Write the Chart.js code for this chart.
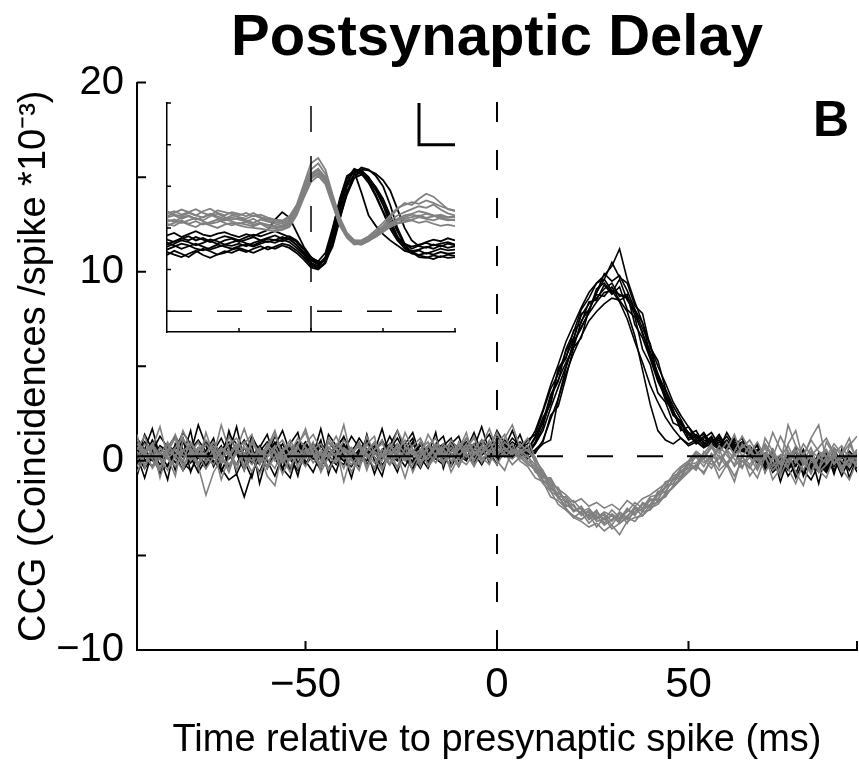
<!DOCTYPE html>
<html>
<head>
<meta charset="utf-8">
<script src="https://cdn.jsdelivr.net/npm/chart.js@4"></script>
<style>
  html, body { margin: 0; padding: 0; background: #fff; }
  #wrap { position: relative; width: 859px; height: 766px; }
  #main { position: absolute; left: 0; top: 0; width: 859px; height: 766px; }
  #inset { position: absolute; left: 157px; top: 93px; width: 310px; height: 250px; }
</style>
</head>
<body>
<div id="wrap">
  <canvas id="main" width="859" height="766"></canvas>
  <canvas id="inset" width="310" height="250"></canvas>
</div>
<script>
// Cross-correlograms (CCG) around a presynaptic spike, plus waveform inset.
// Values, one row per 10 bins.

// ---- main panel: lag axis (ms), 2 ms bins ----
const lagMs = [
  -94,-92,-90,-88,-86,-84,-82,-80,-78,-76,
  -74,-72,-70,-68,-66,-64,-62,-60,-58,-56,
  -54,-52,-50,-48,-46,-44,-42,-40,-38,-36,
  -34,-32,-30,-28,-26,-24,-22,-20,-18,-16,
  -14,-12,-10,-8,-6,-4,-2,0,2,4,
  6,8,10,12,14,16,18,20,22,24,
  26,28,30,32,34,36,38,40,42,44,
  46,48,50,52,54,56,58,60,62,64,
  66,68,70,72,74,76,78,80,82,84,
  86,88,90,92,94
];

// excitatory pairs (black)
const exc1 = [
  0.8,0.2,1.1,0.4,-0.3,0.6,1.5,0.9,0.2,-0.4,
  0.5,1.2,0.3,-0.2,0.7,0.1,-0.6,0.4,1.0,0.2,
  0.8,-0.1,0.5,0.9,0.3,-0.5,0.2,0.7,0.1,0.6,
  -0.2,0.4,1.1,0.3,0.0,0.6,0.2,-0.4,0.5,0.8,
  0.1,0.4,-0.3,0.6,0.2,0.9,1.4,0.5,0.3,0.8,
  0.4,0.6,1.2,2.3,3.0,4.8,5.4,6.9,7.3,8.4,
  8.5,9.3,8.8,9.2,8.0,7.6,5.9,5.1,3.6,3.1,
  2.0,1.8,1.1,1.3,0.8,1.2,0.7,1.1,0.6,0.9,
  0.4,0.6,0.0,-0.4,0.3,-0.2,0.5,-0.6,0.1,-0.3,
  0.4,-0.5,0.2,-0.1,0.3
];
const exc2 = [
  -0.2,0.5,0.9,0.1,0.7,1.3,0.6,-0.1,0.4,1.0,
  0.3,0.8,-0.3,0.5,0.2,1.1,0.6,0.0,-0.8,0.3,
  0.6,1.0,0.4,0.1,0.8,0.3,-0.2,0.5,1.3,0.7,
  0.2,-0.4,0.6,0.9,0.1,0.5,1.0,0.4,-0.1,0.3,
  0.7,0.2,0.5,1.2,0.6,0.1,0.4,1.0,0.7,0.2,
  0.6,0.3,0.9,1.8,3.4,4.2,5.9,6.8,8.0,8.6,
  9.4,9.8,10.3,11.2,9.6,8.4,7.3,5.6,4.4,3.2,
  2.6,1.7,1.4,0.9,1.2,1.5,0.8,1.3,0.7,1.0,
  0.5,0.2,-0.3,0.4,-0.5,0.1,-0.2,0.6,-0.4,0.0,
  -0.6,0.3,-0.2,0.5,0.1
];
const exc3 = [
  0.3,-0.4,0.2,0.8,0.5,-0.1,0.4,0.2,-0.6,0.1,
  0.7,0.3,1.4,0.9,0.2,0.5,-0.2,0.6,0.3,0.9,
  0.1,-0.5,0.3,0.7,0.2,1.0,0.5,0.0,0.4,-0.3,
  0.5,0.8,0.3,-0.2,0.6,0.4,0.9,0.2,0.7,0.1,
  -0.2,0.6,0.3,0.0,0.8,0.5,0.2,0.7,1.1,0.4,
  0.2,0.5,0.4,1.1,2.2,3.3,4.6,5.7,6.6,7.4,
  7.9,8.3,8.6,8.5,8.7,8.0,7.3,6.1,5.0,4.1,
  3.1,2.4,1.8,1.3,1.1,1.0,1.2,0.8,0.9,0.6,
  0.8,0.3,0.1,-0.5,0.2,-0.8,-0.2,0.3,-0.4,-0.1,
  0.2,-0.3,0.4,-0.2,0.0
];
const exc4 = [
  1.2,0.6,0.0,0.4,0.9,0.3,-0.5,0.1,0.7,0.4,
  -0.1,0.3,0.8,0.5,1.1,0.4,0.0,0.6,0.2,-0.4,
  0.4,0.9,0.2,0.6,-0.3,0.3,0.8,1.2,0.5,0.1,
  0.6,0.2,-0.3,0.5,0.9,0.3,0.0,0.5,0.2,0.6,
  0.9,0.3,0.6,0.1,0.4,-0.2,0.5,0.8,0.6,1.0,
  0.7,0.9,1.6,2.7,4.0,5.1,6.3,7.2,8.1,8.9,
  9.4,9.6,9.0,8.4,7.5,6.3,5.2,4.0,3.1,2.3,
  1.7,1.2,0.9,1.1,0.7,0.9,0.6,1.0,0.5,0.7,
  0.2,0.5,-0.1,0.3,-0.6,0.0,-0.3,0.4,-0.2,0.3,
  -0.4,0.1,-0.1,0.4,-0.2
];
const exc5 = [
  0.4,1.0,0.5,-0.2,0.3,0.8,0.2,0.6,1.1,0.5,
  0.0,-0.5,0.2,0.7,0.4,-0.1,0.5,1.0,0.6,0.3,
  -0.4,0.2,0.7,0.3,0.9,0.5,0.1,-0.2,0.6,0.9,
  0.3,0.7,0.1,0.6,1.2,0.4,-0.1,0.3,0.8,0.4,
  0.5,1.0,0.7,0.3,-0.1,0.6,0.9,0.3,0.5,0.2,
  0.5,0.1,0.5,0.9,1.1,3.3,4.9,6.3,7.0,7.9,
  8.9,9.9,9.5,9.8,9.0,8.0,7.0,6.2,4.4,3.5,
  2.6,2.0,1.5,1.2,1.4,0.9,1.1,0.7,1.0,0.8,
  0.6,0.4,0.2,-0.2,0.1,-0.4,0.2,-0.7,0.0,-0.3,
  0.1,-0.2,0.3,-0.5,0.2
];
const exc6 = [
  0.6,0.1,-0.3,0.5,0.9,0.4,0.0,0.8,0.3,-0.2,
  0.9,0.4,0.1,0.6,-0.4,0.2,0.8,0.3,1.3,0.6,
  0.3,0.6,0.0,-0.6,0.4,0.7,0.3,0.9,0.2,0.5,
  1.0,0.4,0.2,0.7,0.3,-0.3,0.5,0.8,0.4,0.1,
  0.4,0.8,0.2,0.5,0.9,0.3,0.7,0.1,0.6,1.2,
  0.8,0.4,1.0,2.1,3.5,4.3,5.2,6.0,7.4,8.0,
  8.8,8.7,9.2,8.5,7.9,6.6,4.8,3.0,1.6,1.1,
  0.9,1.2,0.8,1.0,0.7,1.1,0.6,0.9,0.4,0.6,
  0.3,-0.1,0.4,-0.3,0.2,-0.5,0.1,-0.2,0.3,-0.6,
  0.0,0.3,-0.4,0.2,-0.1
];
const exc7 = [
  0.1,0.5,0.2,-0.6,-0.2,0.4,-0.1,-0.5,0.2,-0.3,
  0.3,-0.4,-1.0,-0.7,-1.9,-0.6,0.1,-0.3,0.4,0.0,
  -0.5,0.2,-0.2,0.6,0.1,-0.4,0.3,0.0,-0.3,0.4,
  0.0,0.5,-0.2,0.2,0.7,0.1,-0.4,0.3,0.0,0.5,
  0.2,-0.3,0.4,0.8,0.3,1.1,0.6,1.6,0.9,0.4,
  0.3,0.7,0.9,1.6,2.8,3.9,5.0,6.2,7.1,7.8,
  8.4,8.9,9.0,8.8,8.6,7.7,6.8,5.5,4.6,3.4,
  2.5,1.9,1.5,1.0,1.3,0.8,1.0,0.6,0.8,0.5,
  0.4,0.0,-0.4,-0.1,-0.7,-0.3,0.1,-0.5,-1.0,-0.2,
  -0.6,0.0,-0.3,0.2,-0.4
];
const exc8 = [
  -0.8,0.6,1.7,0.2,-1.0,0.9,0.3,1.6,-0.4,0.5,
  1.2,-0.6,0.4,1.8,0.0,-0.9,0.7,1.4,0.1,-0.5,
  0.9,1.5,-0.2,0.3,1.1,-0.7,0.6,1.3,0.2,-0.3,
  1.4,0.0,-0.8,0.8,1.6,0.4,-0.5,1.0,0.3,1.5,
  -0.4,0.9,1.3,0.2,0.7,1.8,0.5,-0.2,1.1,0.6,
  1.4,0.3,0.6,1.0,2.4,2.9,4.4,6.0,6.5,8.0,
  8.9,9.6,10.5,9.7,9.4,8.2,7.8,6.0,5.3,3.8,
  2.9,2.2,1.4,1.6,0.9,1.3,0.6,1.5,0.8,1.2,
  0.2,0.9,-0.6,0.4,-1.1,0.1,0.7,-0.8,0.3,-1.2,
  0.5,-0.7,0.6,-0.9,0.2
];
const exc9 = [
  0.3,-0.9,0.5,1.3,0.7,-0.5,1.0,0.4,1.9,0.8,
  -0.3,0.6,1.0,-0.7,0.2,1.3,0.5,-0.4,0.8,1.6,
  0.4,-0.8,0.9,0.2,-0.5,1.4,0.8,0.3,-0.9,0.6,
  1.1,0.5,1.7,0.2,-0.6,0.7,1.2,-0.3,0.4,0.9,
  1.3,-0.2,0.5,1.0,0.2,0.8,-0.1,1.3,0.7,1.6,
  0.6,1.1,1.4,2.6,3.8,4.6,5.8,6.5,7.7,8.3,
  8.6,9.1,9.4,8.7,8.8,7.2,6.5,5.4,4.2,3.4,
  2.4,2.1,1.2,1.4,1.0,0.7,1.3,0.8,1.2,0.6,
  0.7,0.1,0.4,-0.6,-0.2,0.3,-0.9,0.0,-0.5,0.4,
  -0.3,0.2,-0.8,0.1,0.4
];
const exc10 = [
  0.0,1.4,0.6,-0.7,0.8,0.2,1.2,-0.6,0.5,1.0,
  0.7,-0.2,1.6,0.4,-0.5,0.9,-1.2,0.3,0.9,-0.4,
  -0.9,0.5,1.0,0.3,1.7,0.1,-0.6,0.8,0.4,1.2,
  0.6,-0.7,0.4,1.3,0.5,0.9,1.5,0.2,-0.4,0.6,
  0.8,1.2,0.0,0.6,1.5,0.4,1.0,0.2,0.9,0.5,
  1.0,0.6,1.3,2.0,3.1,4.9,5.5,6.4,7.8,7.9,
  9.1,9.4,8.9,9.6,8.5,7.9,6.7,5.8,4.6,3.7,
  2.7,1.6,1.8,1.1,1.5,0.9,1.4,0.7,1.1,0.9,
  0.5,0.8,-0.2,0.6,-0.4,0.2,-0.7,0.4,-0.3,0.1,
  -0.5,0.6,-0.1,0.3,-0.6
];

// inhibitory pairs (grey)
const inh1 = [
  0.5,-0.2,0.8,0.3,1.0,0.1,-0.5,0.6,0.2,0.9,
  0.4,-0.1,1.3,0.5,0.2,-0.6,0.3,0.8,0.0,0.5,
  1.1,0.3,-0.3,0.6,0.9,0.2,0.4,-0.4,0.7,0.1,
  0.5,1.0,0.3,-0.2,0.6,0.2,0.8,1.2,0.4,-0.1,
  0.6,0.2,0.9,0.4,-0.3,0.5,1.0,0.3,0.7,0.4,
  0.6,0.2,-0.2,-1.1,-1.2,-2.0,-2.1,-2.7,-2.4,-3.0,
  -2.6,-3.3,-2.8,-3.1,-2.5,-2.9,-2.2,-2.4,-1.6,-1.7,
  -0.9,-0.8,-0.1,0.2,-0.3,0.4,-0.2,0.6,0.1,-0.4,
  0.5,0.0,0.7,-0.3,0.2,0.8,-0.1,0.4,-0.6,0.3,
  0.6,-0.2,0.3,0.9,0.1
];
const inh2 = [
  0.2,0.9,0.4,-0.4,0.3,0.7,1.2,0.5,-0.1,0.4,
  0.8,0.1,-0.4,0.6,1.0,0.2,0.5,-0.3,0.7,1.1,
  0.3,-0.2,0.5,0.8,0.0,0.6,1.3,0.4,-0.2,0.3,
  0.9,0.2,-0.5,0.4,0.7,0.0,0.3,0.6,1.0,0.2,
  -0.1,0.5,0.8,0.2,0.6,1.1,0.3,-0.2,0.5,0.9,
  0.1,0.3,-0.6,-0.7,-1.6,-1.9,-2.4,-2.3,-2.9,-2.6,
  -3.1,-2.8,-3.2,-2.7,-3.0,-2.4,-2.7,-2.0,-2.1,-1.3,
  -1.2,-0.5,-0.4,0.3,-0.1,0.2,0.6,-0.2,0.3,0.0,
  -0.4,0.3,0.1,0.6,-0.2,0.4,0.0,-0.5,0.5,0.2,
  -0.1,0.4,0.0,-0.3,0.5
];
const inh3 = [
  0.7,0.3,-0.3,0.5,0.1,0.6,0.0,1.0,0.4,0.2,
  -0.2,0.6,0.3,0.9,-0.5,0.4,0.1,0.6,1.4,0.3,
  0.0,0.7,0.2,0.5,-0.3,1.0,0.6,0.1,0.4,0.8,
  0.3,-0.4,0.6,0.2,0.9,0.4,-0.2,0.5,0.1,0.7,
  0.4,0.0,0.6,1.2,0.5,0.1,0.4,0.8,0.2,0.6,
  0.3,-0.1,-0.5,-1.2,-1.6,-2.3,-2.6,-3.0,-3.2,-3.5,
  -3.3,-3.7,-3.4,-3.9,-3.2,-3.0,-2.9,-2.5,-2.3,-1.8,
  -1.4,-0.9,-0.5,-0.2,0.1,-0.4,0.3,-0.1,0.4,-0.3,
  0.2,-0.5,0.4,0.0,-0.8,0.1,0.5,-0.2,0.3,-0.4,
  0.2,0.6,-0.3,0.1,-0.1
];
const inh4 = [
  -0.3,0.4,0.8,0.1,-0.5,0.3,0.6,0.0,0.5,1.1,
  0.6,0.2,-0.2,0.4,0.7,0.3,-0.7,0.2,0.5,-0.1,
  0.4,1.2,0.7,0.2,0.5,-0.4,0.1,0.6,0.3,0.9,
  -0.3,0.5,0.2,0.8,0.4,0.1,0.6,-0.1,0.3,0.9,
  0.2,0.7,0.1,-0.2,0.4,0.8,0.5,1.2,0.3,0.1,
  0.5,0.0,-0.3,-0.6,-1.1,-1.5,-1.8,-2.2,-2.0,-2.4,
  -2.2,-2.5,-2.3,-2.6,-2.1,-2.4,-2.0,-1.8,-1.5,-1.2,
  -0.8,-0.6,-0.1,0.4,0.1,0.7,0.2,-0.3,0.5,1.3,
  0.6,0.1,0.9,0.3,-0.2,1.9,0.8,0.2,1.2,1.9,
  0.0,0.7,0.3,-0.2,0.6
];
const inh5 = [
  0.9,0.4,0.1,0.7,0.2,-0.3,0.5,0.9,0.3,-0.4,
  0.2,0.7,0.4,-0.2,0.3,0.9,0.5,0.1,-0.4,0.6,
  0.8,0.2,0.6,-0.1,0.4,0.3,0.9,0.5,-0.6,0.2,
  0.6,0.9,0.4,0.1,-0.3,0.7,0.5,0.2,0.8,0.3,
  0.9,0.4,-0.2,0.6,0.3,0.7,0.0,0.4,1.0,0.6,
  0.4,0.6,0.0,-0.5,-1.3,-1.4,-2.3,-2.6,-2.5,-3.1,
  -2.8,-2.9,-3.4,-2.8,-3.1,-2.7,-2.3,-2.5,-1.8,-1.6,
  -1.0,-0.9,-0.2,-0.1,0.3,-0.2,0.1,0.5,-0.3,0.2,
  -0.2,0.4,-0.6,0.1,0.3,-0.3,0.6,0.0,-0.7,0.2,
  0.5,-0.1,0.2,0.4,-0.3
];
const inh6 = [
  0.0,0.6,-0.4,0.2,0.5,0.3,-0.2,0.4,-0.3,-1.8,
  -0.6,0.1,0.5,-0.2,0.4,0.0,0.7,-0.4,0.2,0.6,
  -0.3,0.4,0.1,0.8,0.3,-0.5,0.2,0.6,0.0,-0.2,
  0.4,-0.1,0.3,0.6,-0.4,0.2,0.5,0.0,0.3,0.7,
  0.0,0.3,-0.3,0.5,0.9,-0.1,0.6,0.2,0.4,-0.2,
  0.2,-0.2,-0.4,-1.0,-1.5,-1.7,-2.0,-2.6,-2.7,-2.5,
  -3.0,-2.7,-2.9,-3.2,-2.6,-2.8,-2.5,-2.1,-2.0,-1.4,
  -1.2,-0.6,-0.4,-0.3,-0.6,0.1,-0.5,-0.1,-0.8,0.0,
  -0.3,-0.9,0.2,-0.5,0.0,-0.4,-1.2,-0.1,0.2,-0.6,
  -0.2,0.3,-0.5,0.1,-0.3
];
const inh7 = [
  1.1,0.5,0.9,0.2,0.6,1.4,0.3,0.1,0.7,0.3,
  0.1,0.5,0.9,1.2,0.3,-0.2,0.6,0.3,0.8,0.0,
  0.5,0.1,0.9,1.4,0.6,0.2,-0.1,0.7,0.4,1.0,
  0.2,0.6,0.9,0.3,0.5,1.1,0.2,0.6,-0.2,0.4,
  0.7,0.9,0.3,0.7,1.2,0.4,0.8,1.5,0.6,0.3,
  0.9,0.5,0.2,-0.8,-1.0,-1.9,-1.9,-2.4,-2.8,-2.7,
  -3.2,-3.1,-2.9,-3.3,-2.9,-2.5,-2.6,-2.3,-1.7,-1.4,
  -0.7,-0.3,0.0,0.5,0.2,0.8,0.4,1.0,0.3,0.7,
  1.1,0.4,0.8,0.2,1.3,0.5,0.0,0.9,0.3,0.7,
  1.2,0.4,0.8,0.1,0.6
];
const inh8 = [
  1.4,-0.4,0.7,1.8,0.2,-0.8,1.1,0.5,-0.3,1.5,
  0.3,1.9,0.6,-0.5,0.9,1.4,-0.2,0.7,1.6,0.2,
  -0.6,0.8,1.7,0.4,-0.2,1.2,0.6,1.9,0.1,-0.5,
  0.9,1.3,-0.4,0.5,1.6,0.8,-0.6,0.3,1.4,0.7,
  -0.2,1.1,0.6,1.5,0.0,0.8,1.7,0.6,1.2,1.9,
  0.7,1.2,0.1,-0.6,-1.4,-1.8,-2.6,-2.9,-3.1,-2.8,
  -3.5,-3.0,-3.6,-3.3,-3.0,-3.2,-2.7,-2.6,-2.1,-1.9,
  -1.3,-0.9,-0.2,-0.5,0.4,0.9,-0.3,0.6,1.4,0.2,
  0.8,-0.4,1.2,0.5,-0.6,0.9,1.6,0.0,0.7,-0.5,
  1.0,0.3,-0.6,0.8,1.3
];
const inh9 = [
  -0.6,0.3,0.9,-0.9,0.5,1.2,-0.3,0.4,1.0,-0.1,
  0.6,-1.0,0.2,0.8,-0.3,1.1,0.4,-0.8,-1.3,0.5,
  0.9,-0.4,0.3,1.0,-0.6,0.2,0.7,-1.1,0.4,0.8,
  -0.5,0.6,1.1,-0.2,0.3,-0.9,0.5,1.0,-0.3,0.2,
  0.7,-0.6,0.2,0.9,-0.2,0.4,1.1,0.0,-0.5,0.6,
  0.0,-0.3,-0.9,-1.1,-1.9,-2.1,-2.5,-3.0,-2.7,-3.3,
  -2.9,-3.4,-3.1,-2.8,-3.3,-2.5,-2.9,-2.3,-2.2,-1.7,
  -1.4,-1.0,-0.6,-0.2,-0.7,0.1,-0.9,-0.2,-1.1,0.3,
  -0.8,-0.2,0.3,-1.0,-0.4,0.5,-0.6,-1.3,0.1,-0.5,
  -0.9,0.2,-0.4,-1.0,0.0
];
const inh10 = [
  0.6,1.3,0.1,-0.5,0.9,0.2,1.6,0.7,-0.2,0.4,
  1.0,0.3,-0.6,0.6,1.7,0.5,0.0,0.9,0.4,-0.7,
  0.2,0.9,1.5,0.3,-0.4,0.7,0.2,1.1,0.6,-0.1,
  1.3,0.4,0.0,0.9,0.2,1.5,0.6,-0.3,0.8,1.2,
  0.3,-0.3,1.0,0.6,1.3,0.2,-0.2,0.9,1.4,0.4,
  0.5,0.8,-0.1,-0.9,-0.9,-1.6,-2.2,-2.1,-2.6,-2.9,
  -2.7,-3.1,-2.6,-3.0,-2.7,-2.2,-2.5,-1.9,-1.8,-1.1,
  -1.0,-0.4,-0.1,-0.4,0.5,0.0,0.8,0.3,-0.2,0.9,
  0.4,1.0,0.2,1.5,0.6,-0.1,0.8,0.3,1.1,0.5,
  0.2,0.9,0.4,1.2,-0.1
];

const excTraces = [exc1, exc2, exc3, exc4, exc5, exc6, exc7, exc8, exc9, exc10];
const inhTraces = [inh1, inh2, inh3, inh4, inh5, inh6, inh7, inh8, inh9, inh10];

// reference lines and axes of the main panel
const zeroLag = 0;
const baselineRate = 0.25;
const lagRange = [-94, 94];
const ccgRange = [-10, 20];
const lagTickMarks = [-94, -50, 0, 50, 94];
const lagTickLabels = [-50, 0, 50];
const ccgTickMarks = [-10, -5, 0, 5, 10, 15, 20];
const ccgTickLabels = [-10, 0, 10, 20];

// ---- inset: spike waveforms (arbitrary units) ----
const waveT = [
  -2.0,-1.9,-1.8,-1.7,-1.6,-1.5,-1.4,-1.3,-1.2,-1.1,
  -1.0,-0.9,-0.8,-0.7,-0.6,-0.5,-0.4,-0.3,-0.2,-0.1,
  0.0,0.1,0.2,0.3,0.4,0.5,0.6,0.7,0.8,0.9,
  1.0,1.1,1.2,1.3,1.4,1.5,1.6,1.7,1.8,1.9,
  2.0
];
const waveExc1 = [
  1.55,1.62,1.70,1.66,1.58,1.64,1.72,1.68,1.60,1.65,
  1.70,1.63,1.58,1.66,1.74,1.70,1.78,1.72,1.60,1.42,
  1.22,1.12,1.30,1.88,2.58,3.10,3.38,3.30,3.08,2.76,
  2.38,1.98,1.70,1.52,1.44,1.48,1.55,1.50,1.58,1.52,
  1.56
];
const waveExc2 = [
  1.42,1.36,1.30,1.38,1.45,1.35,1.28,1.36,1.44,1.40,
  1.48,1.42,1.50,1.56,1.48,1.55,1.62,1.58,1.46,1.30,
  1.10,1.02,1.18,1.72,2.42,3.00,3.28,3.32,3.15,2.90,
  2.55,2.10,1.75,1.50,1.38,1.35,1.40,1.36,1.42,1.38,
  1.40
];
const waveExc3 = [
  1.82,1.88,1.78,1.85,1.92,1.84,1.80,1.86,1.90,1.83,
  1.78,1.85,1.80,1.88,1.95,2.20,2.38,2.25,1.90,1.55,
  1.30,1.18,1.20,1.55,2.20,2.85,3.30,3.45,3.40,3.25,
  3.00,2.55,2.00,1.62,1.50,1.58,1.66,1.72,1.68,1.75,
  1.70
];
const waveExc4 = [
  1.65,1.58,1.50,1.56,1.62,1.55,1.48,1.54,1.60,1.57,
  1.62,1.56,1.64,1.70,1.66,1.72,1.68,1.75,1.58,1.38,
  1.16,1.08,1.25,1.95,2.70,3.25,3.35,2.85,2.30,2.05,
  1.85,1.70,1.58,1.45,1.40,1.46,1.38,1.44,1.50,1.46,
  1.48
];
const waveExc5 = [
  1.48,1.55,1.62,1.58,1.50,1.46,1.52,1.60,1.55,1.50,
  1.56,1.60,1.55,1.62,1.68,1.64,1.72,1.66,1.52,1.36,
  1.15,1.05,1.28,1.80,2.50,3.05,3.40,3.38,3.22,2.95,
  2.62,2.20,1.80,1.55,1.42,1.30,1.28,1.34,1.30,1.36,
  1.33
];
const waveExc6 = [
  1.72,1.66,1.74,1.80,1.70,1.76,1.68,1.62,1.70,1.74,
  1.66,1.72,1.78,1.70,1.76,1.82,1.74,1.80,1.70,1.50,
  1.28,1.20,1.40,2.00,2.65,3.18,3.42,3.35,3.12,2.80,
  2.40,2.05,1.78,1.62,1.55,1.60,1.64,1.58,1.62,1.66,
  1.60
];
const waveExc7 = [
  1.35,1.45,1.38,1.30,1.42,1.50,1.44,1.36,1.40,1.48,
  1.52,1.46,1.40,1.48,1.55,1.50,1.58,1.52,1.40,1.24,
  1.05,1.00,1.15,1.62,2.30,2.88,3.20,3.28,3.20,2.98,
  2.70,2.30,1.92,1.60,1.42,1.34,1.30,1.25,1.32,1.28,
  1.30
];
const waveExc8 = [
  1.60,1.68,1.75,1.70,1.78,1.72,1.66,1.74,1.80,1.76,
  1.70,1.78,1.84,1.80,1.86,1.92,1.85,1.78,1.66,1.48,
  1.25,1.15,1.22,1.60,2.25,2.80,3.20,3.40,3.38,3.30,
  3.15,2.90,2.45,2.00,1.70,1.56,1.52,1.60,1.55,1.62,
  1.58
];
const waveInh1 = [
  2.25,2.30,2.22,2.28,2.20,2.26,2.32,2.24,2.18,2.25,
  2.20,2.15,2.22,2.12,2.08,2.05,2.02,2.12,2.42,2.85,
  3.25,3.38,3.15,2.62,2.12,1.82,1.66,1.64,1.72,1.84,
  1.96,2.10,2.22,2.30,2.34,2.40,2.36,2.30,2.28,2.24,
  2.26
];
const waveInh2 = [
  2.35,2.40,2.32,2.38,2.45,2.36,2.30,2.42,2.38,2.34,
  2.30,2.36,2.28,2.32,2.25,2.20,2.18,2.28,2.55,3.05,
  3.55,3.68,3.40,2.80,2.25,1.88,1.70,1.68,1.78,1.90,
  2.05,2.25,2.45,2.60,2.55,2.70,2.82,2.75,2.60,2.45,
  2.40
];
const waveInh3 = [
  2.10,2.05,2.15,2.08,2.02,2.12,2.06,2.00,2.08,2.12,
  2.06,2.02,2.00,1.98,1.95,1.92,1.95,2.02,2.30,2.72,
  3.10,3.25,3.05,2.55,2.05,1.76,1.60,1.62,1.70,1.78,
  1.90,2.02,2.10,2.14,2.18,2.12,2.16,2.10,2.05,2.08,
  2.04
];
const waveInh4 = [
  2.20,2.15,2.25,2.30,2.22,2.18,2.28,2.34,2.26,2.20,
  2.24,2.18,2.12,2.20,2.15,2.10,2.05,2.16,2.45,2.90,
  3.30,3.42,3.22,2.70,2.15,1.84,1.68,1.66,1.74,1.88,
  2.00,2.18,2.30,2.38,2.45,2.52,2.48,2.56,2.44,2.35,
  2.30
];
const waveInh5 = [
  2.40,2.32,2.28,2.36,2.30,2.25,2.34,2.28,2.22,2.30,
  2.26,2.22,2.30,2.24,2.18,2.14,2.10,2.20,2.48,2.92,
  3.28,3.40,3.18,2.66,2.16,1.80,1.62,1.60,1.70,1.82,
  1.94,2.06,2.18,2.22,2.26,2.30,2.24,2.28,2.32,2.26,
  2.28
];
const waveInh6 = [
  2.15,2.20,2.12,2.18,2.24,2.16,2.10,2.14,2.20,2.16,
  2.10,2.14,2.08,2.12,2.05,2.02,2.00,2.08,2.35,2.80,
  3.22,3.32,3.12,2.60,2.10,1.78,1.64,1.66,1.74,1.86,
  1.98,2.12,2.20,2.26,2.32,2.28,2.34,2.30,2.22,2.18,
  2.20
];
const waveInh7 = [
  2.28,2.36,2.44,2.38,2.30,2.40,2.46,2.36,2.30,2.38,
  2.34,2.28,2.36,2.26,2.22,2.18,2.14,2.24,2.52,2.98,
  3.40,3.55,3.30,2.75,2.20,1.86,1.70,1.70,1.80,1.95,
  2.12,2.30,2.48,2.55,2.62,2.58,2.66,2.60,2.52,2.46,
  2.42
];
const waveInh8 = [
  2.05,2.12,2.18,2.10,2.16,2.08,2.14,2.20,2.12,2.06,
  2.12,2.08,2.04,2.10,2.00,1.98,1.96,2.05,2.32,2.78,
  3.18,3.30,3.10,2.58,2.08,1.78,1.62,1.60,1.68,1.80,
  1.92,2.05,2.12,2.18,2.20,2.26,2.22,2.18,2.24,2.20,
  2.18
];
const waveExc = [waveExc1, waveExc2, waveExc3, waveExc4, waveExc5, waveExc6, waveExc7, waveExc8];
const waveInh = [waveInh1, waveInh2, waveInh3, waveInh4, waveInh5, waveInh6, waveInh7, waveInh8];

const waveRange = [-2, 2];
const ampRange = [-0.5, 5];
const waveTickMarks = [-1, 0, 1, 2];
const ampTickMarks = [0, 1, 2, 3, 4, 5];
const scaleBarT = [1.5, 1.5, 2.0];
const scaleBarAmp = [5, 4, 4];

// ---- drawing ----
const FONT = '"Liberation Sans", Arial, Helvetica, sans-serif';
const INK = '#000000';
const GREY = '#808080';

function pts(xs, ys) { return ys.map((y, i) => ({ x: xs[i], y })); }
function minus(v) { return v < 0 ? '\u2212' + Math.abs(v) : String(v); }

function line(data, color, width, order, dash) {
  return {
    data, borderColor: color, borderWidth: width, order,
    borderDash: dash || [], pointRadius: 0, tension: 0, fill: false,
  };
}

// MATLAB-style ticks pointing into the plot
function inwardTicks(xMarks, yMarks, len, width) {
  return {
    id: 'inwardTicks',
    afterDatasetsDraw(chart) {
      const { ctx, chartArea: a, scales: { x, y } } = chart;
      ctx.save();
      ctx.strokeStyle = INK;
      ctx.lineWidth = width;
      ctx.beginPath();
      xMarks.forEach(v => {
        const px = x.getPixelForValue(v);
        ctx.moveTo(px, a.bottom); ctx.lineTo(px, a.bottom - len);
      });
      yMarks.forEach(v => {
        const py = y.getPixelForValue(v);
        ctx.moveTo(a.left, py); ctx.lineTo(a.left + len, py);
      });
      ctx.stroke();
      ctx.restore();
    },
  };
}

const panelLetter = {
  id: 'panelLetter',
  afterDraw(chart) {
    const { ctx, chartArea: a } = chart;
    ctx.save();
    ctx.font = 'bold 50px ' + FONT;
    ctx.fillStyle = INK;
    ctx.textAlign = 'right';
    ctx.textBaseline = 'alphabetic';
    ctx.fillText('B', a.right - 8, a.top + 53);
    ctx.restore();
  },
};

const mainSets = [];
excTraces.forEach(t => mainSets.push(line(pts(lagMs, t), INK, 1.6, 3)));
inhTraces.forEach(t => mainSets.push(line(pts(lagMs, t), GREY, 1.6, 2)));
mainSets.push(line([{ x: zeroLag, y: ccgRange[0] }, { x: zeroLag, y: ccgRange[1] }], INK, 2, 1, [20, 28]));
mainSets.push(line([{ x: lagRange[0], y: baselineRate }, { x: lagRange[1], y: baselineRate }], INK, 2, 0, [26, 24]));

new Chart(document.getElementById('main'), {
  type: 'line',
  data: { datasets: mainSets },
  options: {
    responsive: false,
    devicePixelRatio: 1,
    animation: false,
    events: [],
    layout: { padding: { left: 0, right: 2, top: 0, bottom: 0 } },
    plugins: {
      legend: { display: false },
      tooltip: { enabled: false },
      title: {
        display: true, text: 'Postsynaptic Delay', color: INK, fullSize: false,
        font: { size: 58, weight: 'bold', family: FONT },
        padding: { top: 4, bottom: 9 },
      },
    },
    scales: {
      x: {
        type: 'linear', min: lagRange[0], max: lagRange[1],
        afterBuildTicks: s => { s.ticks = lagTickMarks.map(v => ({ value: v })); },
        ticks: {
          autoSkip: false, maxRotation: 0, color: INK, padding: 10,
          font: { size: 42, family: FONT },
          callback: v => lagTickLabels.includes(v) ? minus(v) : '',
        },
        grid: { display: false, drawTicks: false },
        border: { display: true, color: INK, width: 2 },
        title: {
          display: true, text: 'Time relative to presynaptic spike (ms)', color: INK,
          font: { size: 38, family: FONT }, padding: { top: 0, bottom: 3 },
        },
        afterFit: s => { s.height = 116; s.paddingLeft = 0; s.paddingRight = 0; },
      },
      y: {
        type: 'linear', min: ccgRange[0], max: ccgRange[1],
        afterBuildTicks: s => { s.ticks = ccgTickMarks.map(v => ({ value: v })); },
        ticks: {
          autoSkip: false, color: INK, padding: 13,
          font: { size: 40, family: FONT },
          callback: v => ccgTickLabels.includes(v) ? minus(v) : '',
        },
        grid: { display: false, drawTicks: false },
        border: { display: true, color: INK, width: 2 },
        title: {
          display: true, text: 'CCG (Coincidences /spike *10\u207B\u00B3)', color: INK,
          font: { size: 38, family: FONT }, padding: { top: 12, bottom: 0 },
        },
        afterFit: s => { s.width = 137; },
      },
    },
  },
  plugins: [inwardTicks(lagTickMarks, ccgTickMarks, 9, 2), panelLetter],
});

// inset
const insetSets = [];
waveExc.forEach(t => insetSets.push(line(pts(waveT, t), INK, 1.8, 3)));
waveInh.forEach(t => insetSets.push(line(pts(waveT, t), GREY, 1.8, 2)));
insetSets.push(line([{ x: 0, y: ampRange[0] }, { x: 0, y: ampRange[1] }], INK, 1.5, 1, [26, 24]));
insetSets.push(line([{ x: waveRange[0], y: 0 }, { x: waveRange[1], y: 0 }], INK, 1.5, 1, [25, 25]));
insetSets.push(line(pts(scaleBarT, scaleBarAmp), INK, 3, 0));

new Chart(document.getElementById('inset'), {
  type: 'line',
  data: { datasets: insetSets },
  options: {
    responsive: false,
    devicePixelRatio: 1,
    animation: false,
    events: [],
    layout: { padding: { left: 10, right: 12, top: 10, bottom: 11 } },
    plugins: { legend: { display: false }, tooltip: { enabled: false } },
    scales: {
      x: {
        type: 'linear', min: waveRange[0], max: waveRange[1],
        ticks: { display: false },
        grid: { display: false, drawTicks: false },
        border: { display: true, color: INK, width: 1.5 },
        afterFit: s => { s.height = 0; },
      },
      y: {
        type: 'linear', min: ampRange[0], max: ampRange[1],
        ticks: { display: false },
        grid: { display: false, drawTicks: false },
        border: { display: true, color: INK, width: 1.5 },
        afterFit: s => { s.width = 0; },
      },
    },
  },
  plugins: [inwardTicks(waveTickMarks, ampTickMarks, 4, 1.5)],
});
</script>
</body>
</html>
